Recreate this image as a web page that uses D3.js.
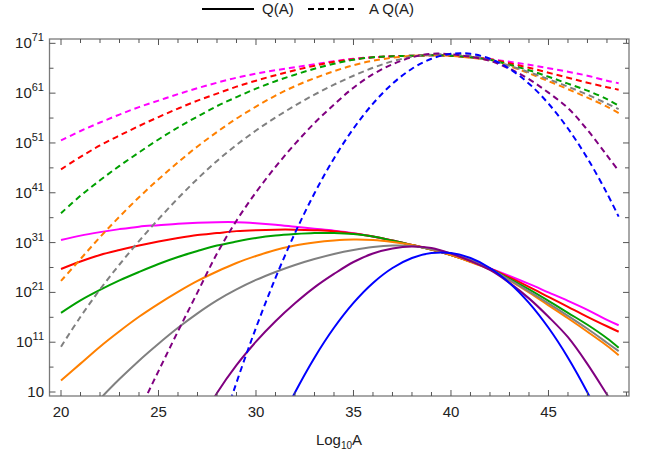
<!DOCTYPE html>
<html><head><meta charset="utf-8">
<script src="https://cdn.jsdelivr.net/npm/d3@7"></script>
<style>body{margin:0;background:#fff}svg{display:block}text{font-family:"Liberation Sans",Arial,sans-serif;fill:#222}</style>
</head><body><svg id="c" width="651" height="458"></svg>
<script>
// x values: log10 A
const logA = [20,21,22,23,24,25,26,27,28,29,30,31,32,33,34,35,36,37,38,39,40,41,42,43,44,45,46,47,48,48.6];
// log10 Q(A) for each series (solid)
const Q_magenta = [31.5,32.4,33.1,33.7,34.2,34.5,34.8,35.0,35.1,35.1,34.9,34.6,34.2,33.8,33.4,32.9,32.2,31.4,30.5,29.6,28.5,27.2,25.8,24.3,22.7,21.0,19.3,17.5,15.5,14.4];
const Q_red     = [25.7,27.2,28.5,29.5,30.4,31.2,31.9,32.5,32.9,33.3,33.5,33.6,33.6,33.5,33.3,32.8,32.2,31.4,30.5,29.6,28.5,27.2,25.8,24.0,22.1,20.1,18.1,16.1,14.2,13.1];
const Q_green   = [16.9,19.4,21.5,23.4,25.1,26.7,28.1,29.3,30.4,31.2,31.9,32.4,32.7,32.9,32.9,32.7,32.2,31.4,30.5,29.6,28.5,27.2,25.7,23.7,21.6,19.3,16.9,14.5,11.8,9.9];
const Q_orange  = [3.3,6.7,10.1,13.2,16.1,18.7,21.1,23.3,25.2,26.9,28.3,29.5,30.4,31.0,31.4,31.6,31.5,31.1,30.5,29.6,28.5,27.1,25.6,23.4,21.0,18.4,15.8,13.1,10.3,8.4];
const Q_gray    = [-9.9,-4.9,-0.4,3.6,7.3,10.7,13.9,16.8,19.4,21.6,23.5,25.1,26.5,27.7,28.7,29.5,30.1,30.4,30.3,29.7,28.8,27.5,25.7,23.5,21.2,18.8,16.3,13.7,10.9,9.2];
const Q_purple  = [-62.0,-52.5,-43.5,-35.2,-27.0,-19.8,-12.8,-6.0,0.8,6.4,11.1,15.2,18.8,22.0,24.7,27.1,28.8,29.8,30.2,29.9,28.8,27.3,25.5,22.9,19.8,16.1,12.0,6.6,0.5,-3.2];
const Q_blue    = [-161.1,-142.1,-124.1,-107.1,-91.1,-76.1,-62.1,-49.1,-37.1,-26.1,-16.1,-7.1,0.9,7.9,13.9,18.9,22.9,25.9,27.9,28.9,28.9,27.9,25.9,22.9,18.9,13.9,7.9,0.9,-7.1,-12.4];
// log10 (A Q(A)) for each series (dashed)
const AQ_magenta = [51.5,53.4,55.1,56.7,58.2,59.5,60.8,62.0,63.1,64.1,64.9,65.6,66.2,66.8,67.4,67.9,68.2,68.4,68.5,68.6,68.5,68.2,67.8,67.3,66.7,66.0,65.3,64.5,63.5,63.0];
const AQ_red     = [45.7,48.2,50.5,52.5,54.4,56.2,57.9,59.5,60.9,62.3,63.5,64.6,65.6,66.5,67.3,67.8,68.2,68.4,68.5,68.6,68.5,68.2,67.8,67.0,66.1,65.1,64.1,63.1,62.2,61.7];
const AQ_green   = [36.9,40.4,43.5,46.4,49.1,51.7,54.1,56.3,58.4,60.2,61.9,63.4,64.7,65.9,66.9,67.7,68.2,68.4,68.5,68.6,68.5,68.2,67.7,66.7,65.6,64.3,62.9,61.5,59.8,58.5];
const AQ_orange  = [23.3,27.7,32.1,36.2,40.1,43.7,47.1,50.3,53.2,55.9,58.3,60.5,62.4,64.0,65.4,66.6,67.5,68.1,68.5,68.6,68.5,68.1,67.6,66.4,65.0,63.4,61.8,60.1,58.3,57.0];
const AQ_gray    = [10.1,16.1,21.6,26.6,31.3,35.7,39.9,43.8,47.4,50.6,53.5,56.1,58.5,60.7,62.7,64.5,66.1,67.4,68.3,68.7,68.8,68.5,67.7,66.5,65.2,63.8,62.3,60.7,58.9,57.8];
const AQ_purple  = [-42.0,-31.5,-21.5,-12.2,-3.0,5.2,13.2,21.0,28.8,35.4,41.1,46.2,50.8,55.0,58.7,62.1,64.8,66.8,68.2,68.9,68.8,68.3,67.5,65.9,63.8,61.1,58.0,53.6,48.5,45.4];
const AQ_blue    = [-141.1,-121.1,-102.1,-84.1,-67.1,-51.1,-36.1,-22.1,-9.1,2.9,13.9,23.9,32.9,40.9,47.9,53.9,58.9,62.9,65.9,67.9,68.9,68.9,67.9,65.9,62.9,58.9,53.9,47.9,40.9,36.2];

const seriesColors = ["#ff00ff","#ff0000","#00a000","#ff8000","#808080","#800080","#0000ff"];
const solidSeries = [Q_magenta,Q_red,Q_green,Q_orange,Q_gray,Q_purple,Q_blue];
const dashedSeries = [AQ_magenta,AQ_red,AQ_green,AQ_orange,AQ_gray,AQ_purple,AQ_blue];
const xTicks = [20,25,30,35,40,45];
const yTickExps = [1,11,21,31,41,51,61,71];
const legendLabels = ["Q(A)","A Q(A)"];

const svg = d3.select("#c");
const L=49.5, R=629, T=39, B=396;
const x = d3.scaleLinear().domain([19.41,49.13]).range([L,R]);
const y = d3.scaleLog().domain([Math.pow(10,0.2),Math.pow(10,71.87)]).range([B,T]);

svg.append("clipPath").attr("id","clip").append("rect")
  .attr("x",L).attr("y",T).attr("width",R-L).attr("height",B-T);

const line = d3.line()
  .x((d,i)=>x(logA[i]))
  .y(d=>y(Math.pow(10,d)))
  .curve(d3.curveCatmullRom.alpha(0.5));

const g = svg.append("g").attr("clip-path","url(#clip)");
solidSeries.forEach((s,k)=>{
  g.append("path").attr("d",line(s)).attr("fill","none")
   .attr("stroke",seriesColors[k]).attr("stroke-width",2);
});
dashedSeries.forEach((s,k)=>{
  g.append("path").attr("d",line(s)).attr("fill","none")
   .attr("stroke",seriesColors[k]).attr("stroke-width",2)
   .attr("stroke-dasharray","6,4");
});

// frame
svg.append("rect").attr("x",L).attr("y",T).attr("width",R-L).attr("height",B-T)
  .attr("fill","none").attr("stroke","#7a7a7a").attr("stroke-width",1.3);

// x ticks (bottom and top)
const tickG = svg.append("g").attr("stroke","#555").attr("stroke-width",1);
d3.range(20,50).forEach(v=>{
  const major = xTicks.includes(v);
  const len = major?6:4;
  tickG.append("line").attr("x1",x(v)).attr("x2",x(v)).attr("y1",B).attr("y2",B-len);
  tickG.append("line").attr("x1",x(v)).attr("x2",x(v)).attr("y1",T).attr("y2",T+len);
});
xTicks.forEach(v=>{
  svg.append("text").attr("x",x(v)).attr("y",B+21).attr("text-anchor","middle")
    .attr("font-size",15).text(v);
});
// y ticks
d3.range(1,72,5).forEach(e=>{
  const major = yTickExps.includes(e);
  const len = major?6:4;
  const yy = y(Math.pow(10,e));
  tickG.append("line").attr("x1",L).attr("x2",L+len).attr("y1",yy).attr("y2",yy);
  tickG.append("line").attr("x1",R).attr("x2",R-len).attr("y1",yy).attr("y2",yy);
});
yTickExps.forEach(e=>{
  const yy = y(Math.pow(10,e));
  const t = svg.append("text").attr("x",44).attr("y",yy+5).attr("text-anchor","end").attr("font-size",15);
  t.append("tspan").text("10");
  if(e!==1) t.append("tspan").attr("font-size",11).attr("dy",-7).text(e);
});

// x axis label
const xl = svg.append("text").attr("x",339).attr("y",445).attr("text-anchor","middle").attr("font-size",15);
xl.append("tspan").text("Log");
xl.append("tspan").attr("font-size",10).attr("dy",4).text("10");
xl.append("tspan").attr("dy",-4).text("A");

// legend
svg.append("line").attr("x1",202).attr("x2",254).attr("y1",9).attr("y2",9)
  .attr("stroke","#000").attr("stroke-width",2);
svg.append("text").attr("x",262).attr("y",14).attr("font-size",15).text(legendLabels[0]);
svg.append("line").attr("x1",308).attr("x2",358).attr("y1",9).attr("y2",9)
  .attr("stroke","#000").attr("stroke-width",2).attr("stroke-dasharray","6,4");
svg.append("text").attr("x",369).attr("y",14).attr("font-size",15).text(legendLabels[1]);
</script></body></html>
